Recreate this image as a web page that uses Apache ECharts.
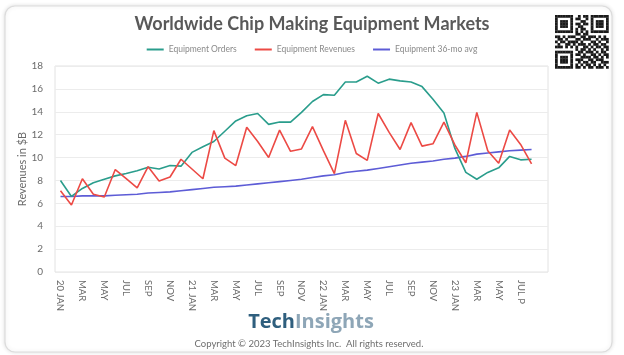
<!DOCTYPE html>
<html>
<head>
<meta charset="utf-8">
<script src="https://cdn.jsdelivr.net/npm/echarts@6/dist/echarts.min.js"></script>
<style>
html,body{margin:0;padding:0;background:#fff;}
#chart{width:624px;height:355px;}
</style>
</head>
<body>
<div id="chart"></div>
<script>
// ---- data ----
const categories = [
  "20 JAN","FEB","MAR","APR","MAY","JUN","JUL","AUG","SEP","OCT","NOV","DEC",
  "21 JAN","FEB","MAR","APR","MAY","JUN","JUL","AUG","SEP","OCT","NOV","DEC",
  "22 JAN","FEB","MAR","APR","MAY","JUN","JUL","AUG","SEP","OCT","NOV","DEC",
  "23 JAN","FEB","MAR","APR","MAY","JUN","JUL P","AUG P",""
];
const equipmentOrders = [8.0,6.6,7.3,7.8,8.1,8.4,8.6,8.85,9.15,9.0,9.3,9.25,
  10.45,10.95,11.4,12.3,13.2,13.65,13.85,12.9,13.1,13.1,13.95,14.9,
  15.5,15.45,16.6,16.6,17.1,16.5,16.85,16.7,16.6,16.2,15.1,13.9,
  10.8,8.7,8.1,8.7,9.1,10.1,9.8,9.85];
const equipmentRevenues = [7.1,5.85,8.15,6.8,6.55,8.95,8.15,7.35,9.2,7.95,8.3,9.85,
  9.0,8.15,12.35,9.95,9.3,12.65,11.4,10.0,12.4,10.55,10.75,12.7,
  10.6,8.6,13.25,10.35,9.75,13.85,12.2,10.7,13.05,11.0,11.2,13.1,
  11.1,9.55,13.95,10.6,9.5,12.4,11.15,9.45];
const equipment36moAvg = [6.6,6.6,6.65,6.65,6.65,6.7,6.75,6.8,6.9,6.95,7.0,7.1,
  7.2,7.3,7.4,7.45,7.5,7.6,7.7,7.8,7.9,8.0,8.1,8.25,
  8.4,8.5,8.7,8.8,8.9,9.05,9.2,9.35,9.5,9.6,9.7,9.85,
  9.95,10.1,10.3,10.4,10.5,10.6,10.65,10.7];
const yTicks = [0,2,4,6,8,10,12,14,16,18];
const seriesNames = ["Equipment Orders","Equipment Revenues","Equipment 36-mo avg"];
const seriesColors = ["#2a9d8c","#ec4a45","#5d5cd6"];

// QR-like decoration pattern (21x21 modules)
const qrRows = [
  "111111100101101111111",
  "100000101100101000001",
  "101110100011001011101",
  "101110101101101011101",
  "101110100110001011101",
  "100000101011001000001",
  "111111101010101111111",
  "000000001101100000000",
  "110101110011011101010",
  "011010001101110010111",
  "101101111010001101001",
  "010011010111010110110",
  "111010101001101011011",
  "000000001011010100101",
  "111111100110111010110",
  "100000101101001101011",
  "101110100011110110101",
  "101110101110011011100",
  "101110100101101100111",
  "100000101010110101010",
  "111111101101011011101"
];

const chart = echarts.init(document.getElementById('chart'), null, {renderer:'canvas'});

const qrGraphics = [];
const qrX = 555, qrY = 15, qrM = 2.55;
qrRows.forEach((row, r) => {
  for (let c = 0; c < row.length; c++) {
    if (row[c] === '1') {
      qrGraphics.push({type:'rect', shape:{x:qrX + c*qrM, y:qrY + r*qrM, width:qrM+0.2, height:qrM+0.2}, style:{fill:'#1a1a1a'}, silent:true});
    }
  }
});

const font = 'Lato, "Open Sans", sans-serif';

const option = {
  backgroundColor: '#ffffff',
  animation: false,
  textStyle: {fontFamily: font},
  title: {
    text: 'Worldwide Chip Making Equipment Markets',
    left: 'center',
    top: 10,
    textStyle: {fontSize: 18, fontWeight: 'bold', color: '#595959', fontFamily: font}
  },
  legend: {
    data: seriesNames,
    top: 40,
    left: 'center',
    itemWidth: 17,
    itemHeight: 2,
    itemGap: 18,
    icon: 'rect',
    textStyle: {fontSize: 8.5, color: '#8a8a8a', fontFamily: font}
  },
  grid: {
    left: 55, right: 76, top: 66, bottom: 83,
    show: true, borderColor: '#e2e2e2', borderWidth: 1, backgroundColor: 'transparent'
  },
  xAxis: {
    type: 'category',
    data: categories,
    boundaryGap: true,
    axisLine: {show: false},
    axisTick: {show: false},
    axisLabel: {
      interval: function (index) { return index % 2 === 0 && index <= 42; },
      rotate: -90, margin: 8, fontSize: 9.5, color: '#6b6b6b', fontFamily: font
    },
    splitLine: {show: false}
  },
  yAxis: {
    type: 'value',
    min: yTicks[0],
    max: yTicks[yTicks.length - 1],
    interval: 2,
    name: 'Revenues in $B',
    nameLocation: 'middle',
    nameGap: 27,
    nameMoveOverlap: false,
    nameTextStyle: {fontSize: 11, color: '#6b6b6b', fontFamily: font},
    axisLine: {show: false},
    axisTick: {show: false},
    axisLabel: {margin: 12, fontSize: 10, color: '#6b6b6b', fontFamily: font},
    splitLine: {lineStyle: {color: '#ececec', width: 1}}
  },
  series: [
    {name: seriesNames[0], type: 'line', data: equipmentOrders, symbol: 'none', color: seriesColors[0], lineStyle: {width: 1.6}, z: 2},
    {name: seriesNames[1], type: 'line', data: equipmentRevenues, symbol: 'none', color: seriesColors[1], lineStyle: {width: 1.6}, z: 3},
    {name: seriesNames[2], type: 'line', data: equipment36moAvg, symbol: 'none', color: seriesColors[2], lineStyle: {width: 1.6}, z: 1}
  ],
  graphic: [
    {type:'rect', z:-10, silent:true, shape:{x:5, y:6, width:607, height:346, r:10},
      style:{fill:'#ffffff', stroke:'#dcdcdc', lineWidth:1.2, shadowBlur:4, shadowColor:'rgba(0,0,0,0.12)'}},
    {type:'group', children: qrGraphics},
    {type:'text', silent:true, x:311, y:332, style:{
      text:'{a|Tech}{b|Insights}', textAlign:'center', textVerticalAlign:'bottom',
      rich:{
        a:{fontSize:20, fontWeight:'bold', fill:'#2f5f7e', fontFamily:'"Open Sans", Lato, sans-serif'},
        b:{fontSize:20, fontWeight:'bold', fill:'#8ea6b7', fontFamily:'"Open Sans", Lato, sans-serif'}
      }
    }},
    {type:'text', silent:true, x:309, y:344, style:{
      text:'Copyright \u00a9 2023 TechInsights Inc.  All rights reserved.',
      textAlign:'center', textVerticalAlign:'middle', fontSize:9.5, fill:'#6e6e6e', fontFamily: font
    }}
  ]
};
chart.setOption(option);
</script>
</body>
</html>
